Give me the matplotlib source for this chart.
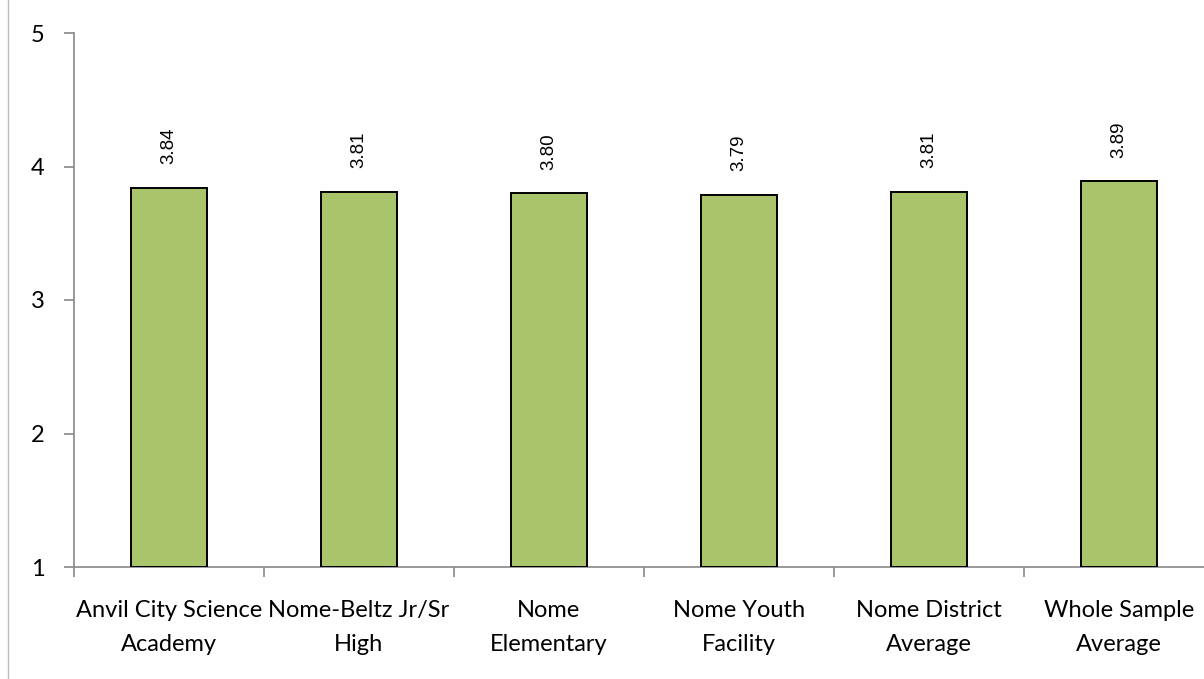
import matplotlib
matplotlib.use("Agg")
import matplotlib.pyplot as plt
from matplotlib.lines import Line2D
import numpy as np

categories = ["Anvil City Science\nAcademy", "Nome-Beltz Jr/Sr\nHigh", "Nome\nElementary",
              "Nome Youth\nFacility", "Nome District\nAverage", "Whole Sample\nAverage"]
values = [3.84, 3.81, 3.80, 3.79, 3.81, 3.89]
value_labels = ["3.84", "3.81", "3.80", "3.79", "3.81", "3.89"]
yticks = [1, 2, 3, 4, 5]

W, H = 1204, 679
fig = plt.figure(figsize=(W / 100, H / 100), dpi=100)
ax = fig.add_axes([74 / W, 112 / H, 1140 / W, 534 / H])

x = np.arange(len(categories))
ax.bar(x, np.array(values) - 1, bottom=1, width=0.4, color="#A9C46A",
       edgecolor="black", linewidth=1.4, zorder=3)

for xi, v, lab in zip(x, values, value_labels):
    ax.annotate(lab, (xi, v), xytext=(0, 17), textcoords="offset points",
                rotation=90, ha="center", va="bottom", fontsize=13.5,
                family="Liberation Sans", color="black")

ax.set_xlim(-0.5, len(categories) - 0.5)
ax.set_ylim(1, 5)
ax.set_yticks(yticks)
ax.set_yticklabels([str(t) for t in yticks], fontsize=17, family="Lato")
ax.set_xticks(x)
ax.set_xticklabels(categories, fontsize=17, family="Lato", linespacing=1.72)
ax.set_xticks(np.arange(len(categories) + 1) - 0.5, minor=True)
ax.tick_params(axis="x", which="major", length=0, pad=24)
ax.tick_params(axis="x", which="minor", length=7, color="#888888", width=1.2)
ax.tick_params(axis="y", length=7, color="#888888", width=1.2, pad=14)

for s in ["top", "right"]:
    ax.spines[s].set_visible(False)
for s in ["left", "bottom"]:
    ax.spines[s].set_color("#888888")
    ax.spines[s].set_linewidth(1.2)

fig.add_artist(Line2D([7.5 / W, 7.5 / W], [0, 1], transform=fig.transFigure,
                      color="#BBBBBB", linewidth=1))

fig.savefig("out.png", dpi=100)
